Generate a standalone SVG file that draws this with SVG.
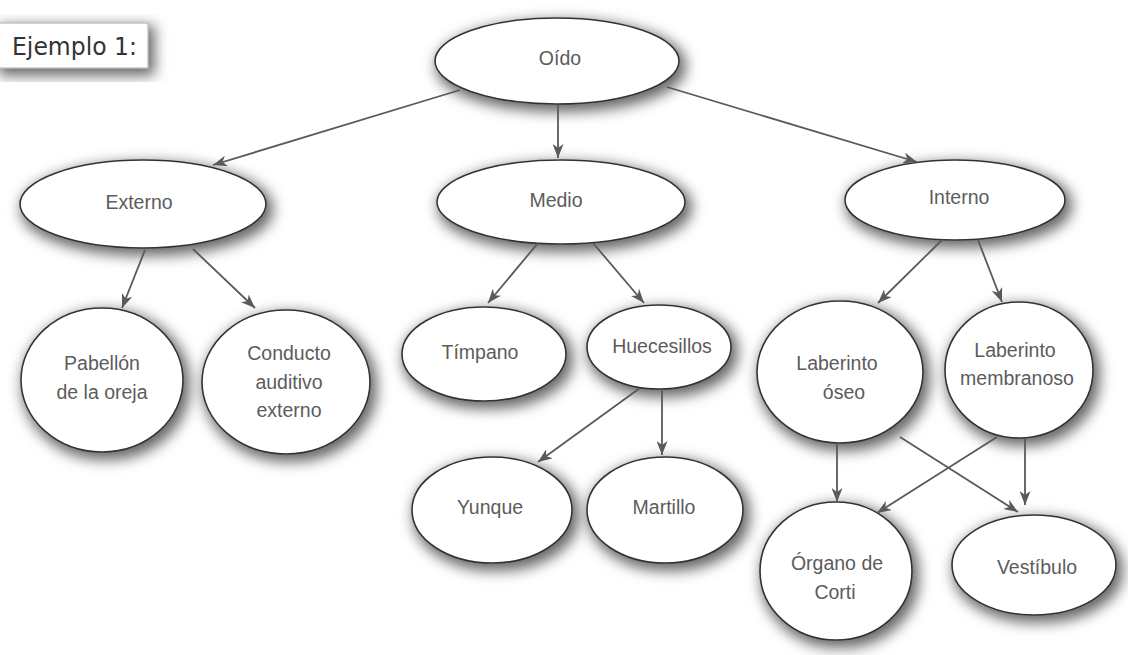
<svg xmlns="http://www.w3.org/2000/svg" width="1128" height="655" viewBox="0 0 1128 655">
<defs>
<filter id="sh" x="-30%" y="-30%" width="160%" height="160%">
<feMorphology in="SourceAlpha" operator="dilate" radius="2" result="d"/>
<feGaussianBlur in="d" stdDeviation="7" result="b"/>
<feOffset in="b" dx="4" dy="5" result="o"/>
<feFlood flood-color="#000" flood-opacity="0.6"/>
<feComposite in2="o" operator="in" result="s"/>
<feMerge><feMergeNode in="s"/><feMergeNode in="SourceGraphic"/></feMerge>
</filter>
<marker id="ah" markerUnits="userSpaceOnUse" markerWidth="15" markerHeight="11" refX="14" refY="5.5" orient="auto">
<path d="M0,0 L14,5.5 L0,11 L4,5.5 z" fill="#5a5a5a"/>
</marker>
<style>
.n ellipse{fill:#fff;stroke:#333;stroke-width:1.6;filter:url(#sh)}
.n text{font-family:"Liberation Sans",Arial,sans-serif;font-size:19.5px;fill:#5c5c5c;text-anchor:middle}
#edges line{stroke:#5a5a5a;stroke-width:1.8;marker-end:url(#ah)}
</style>
</defs>
<rect width="1128" height="655" fill="#fff"/>
<g id="title">
<rect x="-3" y="23" width="151" height="45" fill="#fff" stroke="#aaa" stroke-width="1" filter="url(#sh)"/>
<text x="12" y="55" font-family="DejaVu Sans Condensed, DejaVu Sans, sans-serif" font-size="24" fill="#333" textLength="125" lengthAdjust="spacingAndGlyphs">Ejemplo 1:</text>
</g>
<g class="n" id="oido"><ellipse cx="557" cy="61" rx="122" ry="43"/><text x="560" y="65">Oído</text></g>
<g class="n" id="externo"><ellipse cx="143" cy="204" rx="123" ry="44"/><text x="139" y="209">Externo</text></g>
<g class="n" id="medio"><ellipse cx="561" cy="202" rx="124" ry="42"/><text x="556" y="207">Medio</text></g>
<g class="n" id="interno"><ellipse cx="955" cy="200" rx="110" ry="40"/><text x="959" y="204">Interno</text></g>
<g class="n" id="pabellon"><ellipse cx="102" cy="380" rx="81" ry="72"/><text x="102" y="370">Pabellón</text><text x="102" y="399">de la oreja</text></g>
<g class="n" id="conducto"><ellipse cx="286" cy="382" rx="84" ry="72"/><text x="289" y="360">Conducto</text><text x="289" y="389">auditivo</text><text x="289" y="417">externo</text></g>
<g class="n" id="timpano"><ellipse cx="484" cy="354" rx="82" ry="47"/><text x="480" y="359">Tímpano</text></g>
<g class="n" id="huecesillos"><ellipse cx="659" cy="347" rx="72" ry="42"/><text x="662" y="353">Huecesillos</text></g>
<g class="n" id="yunque"><ellipse cx="492" cy="510" rx="80" ry="53"/><text x="490" y="514">Yunque</text></g>
<g class="n" id="martillo"><ellipse cx="665" cy="510" rx="78" ry="53"/><text x="664" y="514">Martillo</text></g>
<g class="n" id="laberinto-oseo"><ellipse cx="840" cy="372" rx="83" ry="71"/><text x="837" y="370">Laberinto</text><text x="844" y="399">óseo</text></g>
<g class="n" id="laberinto-membranoso"><ellipse cx="1019" cy="370" rx="74" ry="68"/><text x="1015" y="357">Laberinto</text><text x="1017" y="385">membranoso</text></g>
<g class="n" id="organo-corti"><ellipse cx="836" cy="571" rx="76" ry="69"/><text x="837" y="570">Órgano de</text><text x="835" y="599">Corti</text></g>
<g class="n" id="vestibulo"><ellipse cx="1034" cy="565" rx="82" ry="50"/><text x="1037" y="574">Vestíbulo</text></g>
<g id="edges">
<line x1="460" y1="90" x2="213" y2="165"/>
<line x1="558" y1="105" x2="558" y2="158"/>
<line x1="667" y1="87" x2="917" y2="162"/>
<line x1="145" y1="250" x2="122" y2="308"/>
<line x1="193" y1="249" x2="255" y2="308"/>
<line x1="538" y1="243" x2="488" y2="303"/>
<line x1="593" y1="243" x2="644" y2="303"/>
<line x1="640" y1="388" x2="538" y2="462"/>
<line x1="662" y1="389" x2="662" y2="455"/>
<line x1="942" y1="240" x2="878" y2="303"/>
<line x1="978" y1="240" x2="1002" y2="302"/>
<line x1="837" y1="443" x2="837" y2="502"/>
<line x1="900" y1="437" x2="1018" y2="512"/>
<line x1="997" y1="437" x2="877" y2="513"/>
<line x1="1025" y1="438" x2="1025" y2="505"/>
</g>
</svg>
